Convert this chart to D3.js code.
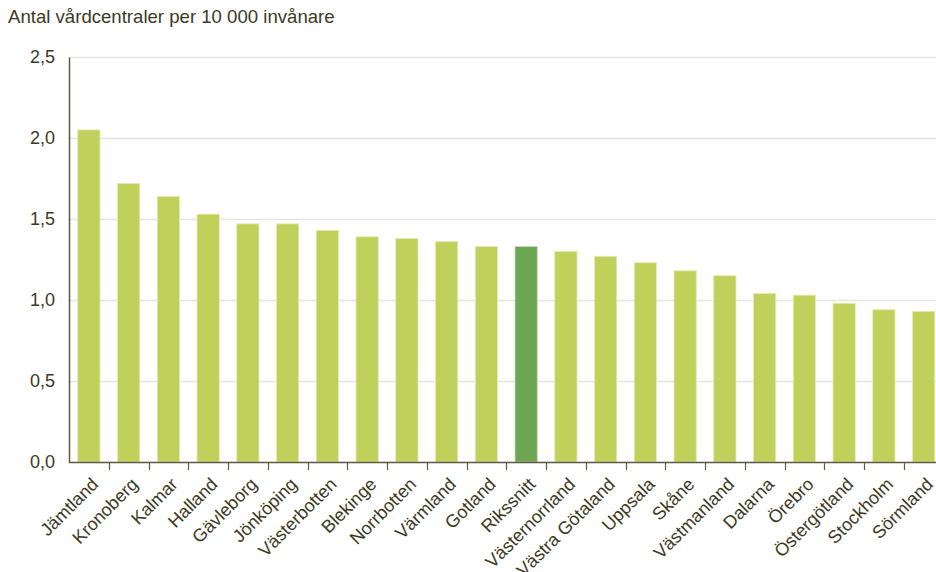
<!DOCTYPE html>
<html>
<head>
<meta charset="utf-8">
<script src="https://cdn.jsdelivr.net/npm/d3@7"></script>
<style>
  html, body { margin: 0; padding: 0; background: #fff; }
  svg { display: block; font-family: "Liberation Sans", Arial, sans-serif; }
</style>
</head>
<body>
<svg id="chart" width="936" height="572"></svg>
<script>
// Vårdcentraler per 10 000 invånare, per region
const regions = ["Jämtland","Kronoberg","Kalmar","Halland","Gävleborg","Jönköping","Västerbotten","Blekinge","Norrbotten","Värmland","Gotland","Rikssnitt","Västernorrland","Västra Götaland","Uppsala","Skåne","Västmanland","Dalarna","Örebro","Östergötland","Stockholm","Sörmland"];
const values = [2.05,1.72,1.64,1.53,1.47,1.47,1.43,1.39,1.38,1.36,1.33,1.33,1.30,1.27,1.23,1.18,1.15,1.04,1.03,0.98,0.94,0.93];
const highlight = ["Rikssnitt"];
const yTicks = [0, 0.5, 1.0, 1.5, 2.0, 2.5];
const title = "Antal vårdcentraler per 10 000 invånare";

const svg = d3.select("#chart");
const textColor = "#3b3a1e";
const axisColor = "#5b5940";

const margin = { left: 69, top: 57, bottom: 462, right: 943.5 };

const x = d3.scaleBand().domain(regions).range([margin.left, margin.right]).paddingInner(0.44).paddingOuter(0.22);
const y = d3.scaleLinear().domain([0, 2.5]).range([margin.bottom, margin.top]);

// title
svg.append("text").attr("x", 8).attr("y", 23).attr("fill", textColor)
  .attr("font-size", 18.6).text(title);

// gridlines
svg.append("g").selectAll("line").data(yTicks.filter(d => d > 0)).join("line")
  .attr("x1", margin.left).attr("x2", 936)
  .attr("y1", d => Math.round(y(d)) + 0.5).attr("y2", d => Math.round(y(d)) + 0.5)
  .attr("stroke", "#e6e6e4").attr("stroke-width", 1.5);

// bars
svg.append("g").selectAll("rect").data(regions).join("rect")
  .attr("x", d => x(d)).attr("width", x.bandwidth())
  .attr("y", (d, i) => y(values[i])).attr("height", (d, i) => y(0) - y(values[i]))
  .attr("fill", d => highlight.includes(d) ? "#6ea754" : "#bfd15a")
  .attr("stroke", d => highlight.includes(d) ? "#c4dcb5" : "#e3edb8").attr("stroke-width", 0.8);

// y axis
const yAxis = d3.axisLeft(y).tickValues(yTicks).tickSize(0).tickPadding(14)
  .tickFormat(d => d3.format(".1f")(d).replace(".", ","));
const gy = svg.append("g").attr("transform", `translate(${margin.left},0)`).call(yAxis);
gy.select(".domain").attr("stroke", axisColor).attr("stroke-width", 1.5);
gy.selectAll("text").attr("fill", textColor).attr("font-size", 18)
  .attr("font-family", "Liberation Sans, Arial, sans-serif");

// x axis: ticks at band boundaries
const gx = svg.append("g").attr("transform", `translate(0,${margin.bottom})`);
gx.append("line").attr("x1", margin.left).attr("x2", 936).attr("y1", 0.5).attr("y2", 0.5)
  .attr("stroke", axisColor).attr("stroke-width", 1.5);
const step = x.step();
gx.selectAll("line.tick").data(regions.slice(1)).join("line").attr("class", "tick")
  .attr("x1", d => Math.round(x(d) - step * 0.22) + 0.5)
  .attr("x2", d => Math.round(x(d) - step * 0.22) + 0.5)
  .attr("y1", 0).attr("y2", 8).attr("stroke", axisColor).attr("stroke-width", 1.2);
gx.selectAll("text").data(regions).join("text")
  .attr("transform", d => `translate(${x(d) + x.bandwidth() / 2 + 6},${19}) rotate(-45)`)
  .attr("text-anchor", "end").attr("dy", "0.35em")
  .attr("fill", textColor).attr("font-size", 18).text(d => d);
</script>
</body>
</html>
